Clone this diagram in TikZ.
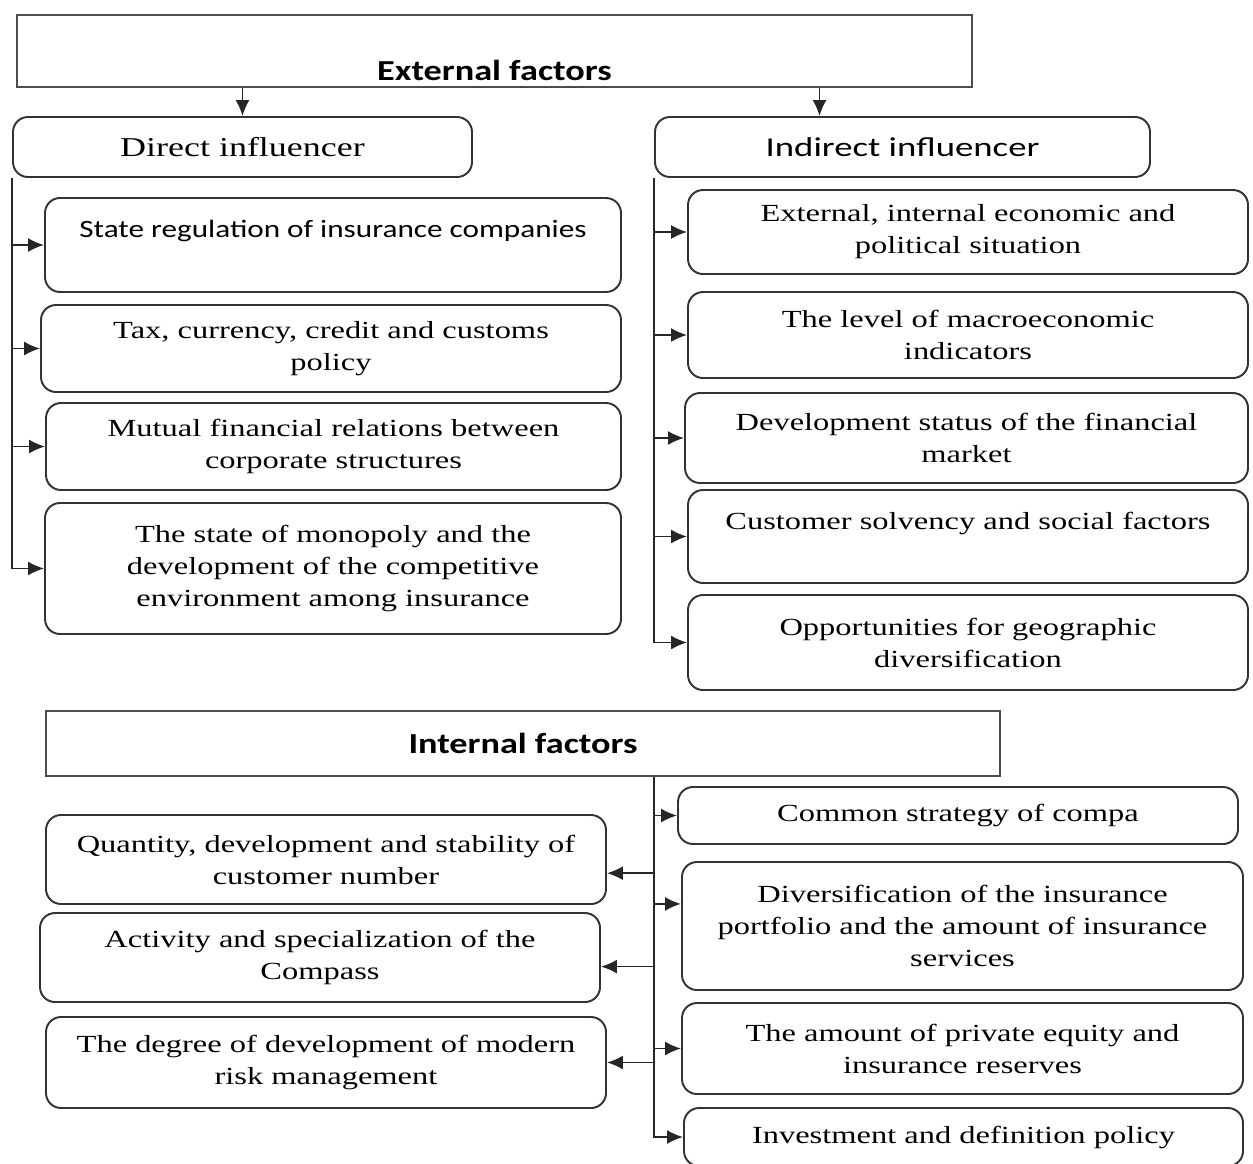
\documentclass[tikz,border=0pt]{standalone}
\usepackage{fontspec}
\setmainfont{Liberation Serif}
\newfontfamily\boxserif[FakeStretch=1.32]{Liberation Serif}
\newfontfamily\boxsans[FakeStretch=1.25]{Carlito}
\newfontfamily\headsans[FakeStretch=1.35]{Carlito}
\usetikzlibrary{arrows.meta, calc}

\begin{document}
\begin{tikzpicture}[
    every node/.style={text=black},
    box/.style={draw=black!80, line width=1.1pt, rounded corners=0.3cm, align=center, inner sep=2pt,
        font=\boxserif\fontsize{14}{18.2}\selectfont},
    factor/.style={draw=black!70, line width=1.1pt, align=center, font=\boxsans\bfseries\fontsize{16.5}{18}\selectfont},
    arr/.style={-{Latex[length=3.2mm,width=2.8mm]}, line width=1pt, draw=black!85}
]
    % Page frame
    \useasboundingbox (0,0) rectangle (25.06,-23.26);

    % External factors
    \node[factor, minimum width=19.1cm, minimum height=1.44cm,
        label={[label distance=-0.68cm, font=\boxsans\bfseries\fontsize{16.5}{18}\selectfont]south:External factors}]
        (ext) at (9.89,-1.02) {};
    \node[box, minimum width=9.18cm, minimum height=1.2cm, font=\boxserif\fontsize{15.5}{18}\selectfont]
        (dir) at (4.85,-2.94) {Direct influencer};
    \node[box, minimum width=9.9cm, minimum height=1.2cm, font=\headsans\fontsize{15.5}{18}\selectfont]
        (ind) at (18.05,-2.94) {Indirect influencer};
    \coordinate (ind in) at ($(ind.north west)!0.333!(ind.north east)$);
    \draw[arr] (dir.north |- ext.south) -- (dir.north);
    \draw[arr] (ind in |- ext.south) -- (ind in);

    % Direct influencer boxes
    \node[box, minimum width=11.52cm, minimum height=1.88cm, font=\boxsans\fontsize{14.2}{18.2}\selectfont]
        (l1) at (6.66,-4.9) {State regulation of insurance companies\\ \phantom{x}};
    \node[box, minimum width=11.6cm, minimum height=1.74cm]
        (l2) at (6.62,-6.97) {Tax, currency, credit and customs\\ policy};
    \node[box, minimum width=11.5cm, minimum height=1.74cm]
        (l3) at (6.67,-8.93) {Mutual financial relations between\\ corporate structures};
    \node[box, minimum width=11.52cm, minimum height=2.62cm]
        (l4) at (6.66,-11.37) {The state of monopoly and the\\ development of the competitive\\ environment among insurance};
    \foreach \n in {l1,l2,l3}
    {
        \draw[arr] (dir.south west |- \n.west) -- (\n.west);
    }
    \draw[arr] (dir.south west) |- (l4.west);

    % Indirect influencer boxes
    \node[box, minimum width=11.2cm, minimum height=1.68cm]
        (r1) at (19.36,-4.64) {External, internal economic and\\ political situation};
    \node[box, minimum width=11.2cm, minimum height=1.72cm]
        (r2) at (19.36,-6.7) {The level of macroeconomic\\ indicators};
    \node[box, minimum width=11.26cm, minimum height=1.8cm]
        (r3) at (19.33,-8.76) {Development status of the financial\\ market};
    \node[box, minimum width=11.2cm, minimum height=1.86cm]
        (r4) at (19.36,-10.73) {Customer solvency and social factors\\ \phantom{x}};
    \node[box, minimum width=11.2cm, minimum height=1.9cm]
        (r5) at (19.36,-12.85) {Opportunities for geographic\\ diversification};
    \foreach \n in {r1,r2,r3,r4}
    {
        \draw[arr] (ind.south west |- \n.west) -- (\n.west);
    }
    \draw[arr] (ind.south west) |- (r5.west);

    % Internal factors
    \node[factor, minimum width=19.08cm, minimum height=1.3cm] (int) at (10.46,-14.87) {Internal factors};
    \coordinate (trunk) at ($(int.south west)!0.637!(int.south east)$);

    % Internal boxes, right side
    \node[box, minimum width=11.2cm, minimum height=1.14cm]
        (ia) at (19.16,-16.31) {Common strategy of compa};
    \node[box, minimum width=11.22cm, minimum height=2.56cm]
        (ib) at (19.25,-18.52) {Diversification of the insurance\\ portfolio and the amount of insurance\\ services};
    \node[box, minimum width=11.22cm, minimum height=1.82cm]
        (ic) at (19.25,-20.97) {The amount of private equity and\\ insurance reserves};
    \node[box, minimum width=11.18cm, minimum height=1.16cm]
        (id) at (19.27,-22.74) {Investment and definition policy};
    \coordinate (ib in) at ($(ib.north west)!0.33!(ib.south west)$);
    \draw[arr] (trunk) |- (id.west);
    \foreach \n in {ia.west, ib in, ic.west}
    {
        \draw[arr] (trunk |- \n) -- (\n);
    }

    % Internal boxes, left side
    \node[box, minimum width=11.2cm, minimum height=1.78cm]
        (qa) at (6.52,-17.19) {Quantity, development and stability of\\ customer number};
    \node[box, minimum width=11.2cm, minimum height=1.78cm]
        (qb) at (6.4,-19.15) {Activity and specialization of the\\ Compass};
    \node[box, minimum width=11.2cm, minimum height=1.82cm]
        (qc) at (6.52,-21.25) {The degree of development of modern\\ risk management};
    \coordinate (qa in) at ($(qa.north east)!0.65!(qa.south east)$);
    \coordinate (qb in) at ($(qb.north east)!0.6!(qb.south east)$);
    \foreach \n in {qa in, qb in, qc.east}
    {
        \draw[arr] (trunk |- \n) -- (\n);
    }
\end{tikzpicture}
\end{document}
